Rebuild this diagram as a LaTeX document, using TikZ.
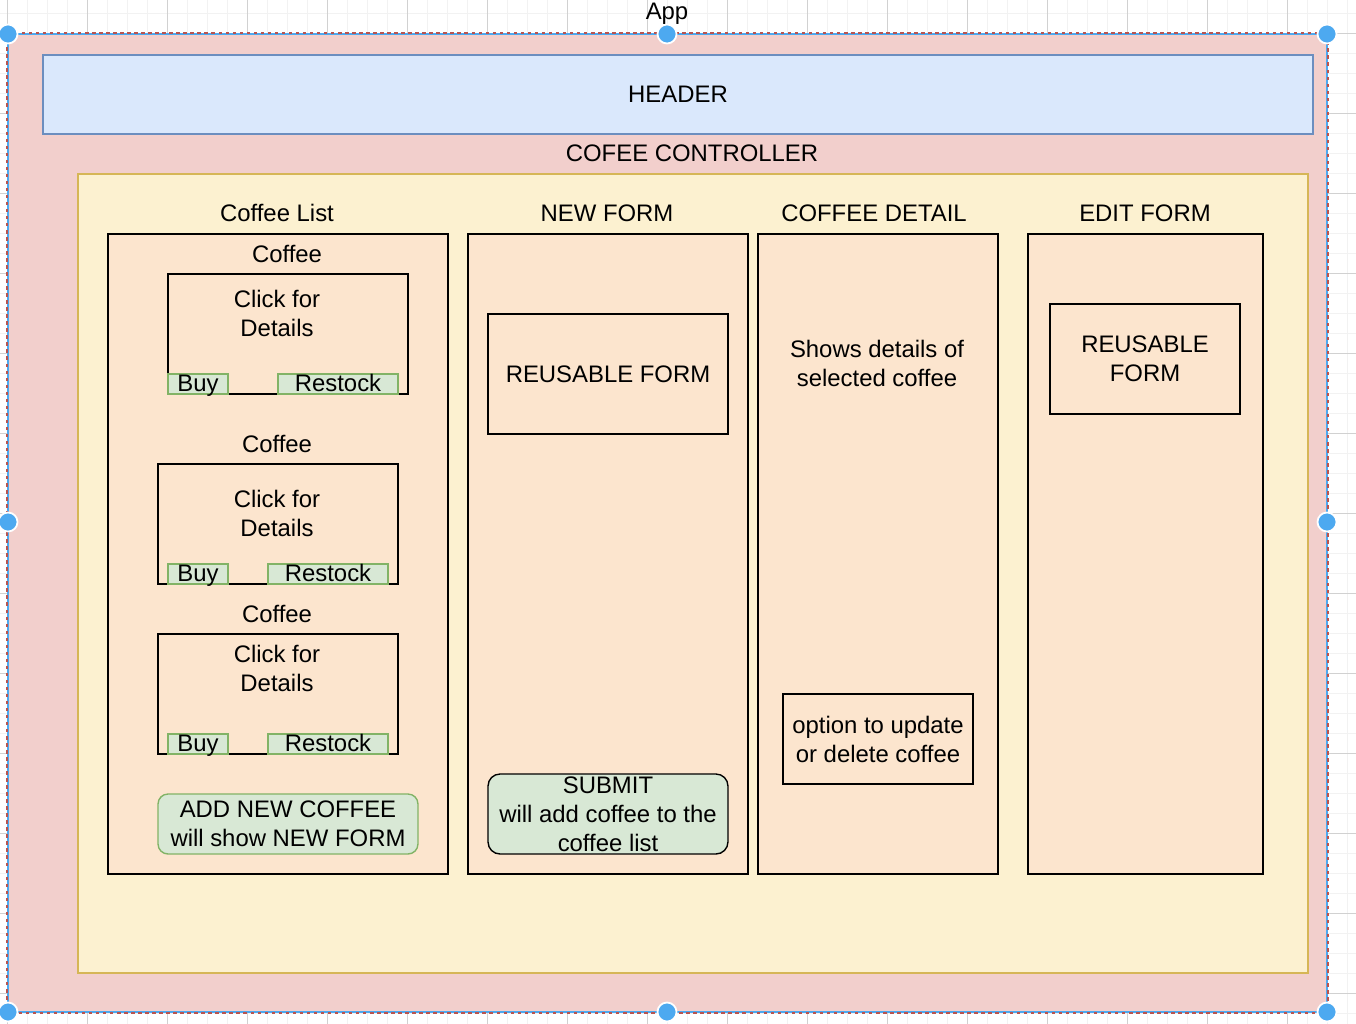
\documentclass[tikz,border=0pt]{standalone}
\usepackage{fontspec}
\setmainfont{Liberation Sans}
\usetikzlibrary{positioning}
\definecolor{appfill}{HTML}{F2CFCC}
\definecolor{appline}{HTML}{B85450}
\definecolor{selblue}{HTML}{4DA9F0}
\definecolor{headfill}{HTML}{DAE8FC}
\definecolor{headline}{HTML}{6C8EBF}
\definecolor{ctrlfill}{HTML}{FCF1D0}
\definecolor{ctrlline}{HTML}{D6B656}
\definecolor{panelfill}{HTML}{FCE5CE}
\definecolor{btnfill}{HTML}{D8E8D5}
\definecolor{btnline}{HTML}{82B366}
\tikzset{box/.style={draw=black, line width=0.8pt, inner sep=0pt, align=center}}
\tikzset{panel/.style={box, fill=panelfill, minimum width=#1, minimum height=12.8cm}}
\tikzset{card/.style={box, minimum width=4.8cm, minimum height=2.4cm}}
\tikzset{btn/.style={inner sep=0pt, draw=btnline, line width=0.8pt, fill=btnfill, minimum height=0.4cm, minimum width=#1}}
\tikzset{smallbtn/.style={btn=#1, text height=0.9em, text depth=0em}}
\tikzset{handle/.style={circle, inner sep=0pt, minimum size=0.38cm, fill=selblue, draw=white, line width=1pt}}
\tikzset{gridminor/.style={draw=black!5, line width=0.4pt}}
\tikzset{gridmajor/.style={draw=black!18, line width=0.4pt}}

\begin{document}
\begin{tikzpicture}[x=0.02cm, y=-0.02cm, every node/.append style={font=\fontsize{13.6pt}{16.5pt}\selectfont}]
    \useasboundingbox (0,0) rectangle (1356,1024);
    \fill[white] (0,0) rectangle (1356,1024);
    \foreach \gx in {7,27,...,1347} \draw[gridminor] (\gx,0) -- (\gx,1024);
    \foreach \gy in {13,33,...,1013} \draw[gridminor] (0,\gy) -- (1356,\gy);
    \foreach \gx in {7,87,...,1327} \draw[gridmajor] (\gx,0) -- (\gx,1024);
    \foreach \gy in {33,113,...,993} \draw[gridmajor] (0,\gy) -- (1356,\gy);

    % containers
    \node[inner sep=0pt, fill=appfill, draw=selblue, line width=1pt, minimum width=26.38cm, minimum height=19.56cm] (app) at (667.5, 523) {};
    \draw[appline, line width=1pt, dash pattern=on 2pt off 2pt] (app.north west) rectangle (app.south east);
    \node (applbl) at (667, 14) {App};
    \node[inner sep=0pt, fill=headfill, draw=headline, line width=0.8pt, minimum width=25.4cm, minimum height=1.58cm] (header) at (678, 94.5) {HEADER};
    \node (ctrllbl) at (692, 153) {COFEE CONTROLLER};
    \node[inner sep=0pt, fill=ctrlfill, draw=ctrlline, line width=0.8pt, minimum width=24.6cm, minimum height=15.98cm] (ctrl) at (693, 573.5) {};

    % columns
    \node[panel=6.8cm] (list) at (278, 554) {};
    \node[panel=5.6cm] (newf) at (608, 554) {};
    \node[panel=4.8cm] (detail) at (878, 554) {};
    \node[panel=4.7cm] (edit) at (1145.5, 554) {};
    \node (listlbl) at (277, 213) {Coffee List};
    \node (newlbl) at (607, 213) {NEW FORM};
    \node (detaillbl) at (874, 213) {COFFEE DETAIL};
    \node (editlbl) at (1145, 213) {EDIT FORM};

    % coffee cards
    \node (c1lbl) at (287, 254) {Coffee};
    \node[card] (c1) at (288, 334) {};
    \node[align=center] (c1txt) at (277, 313) {Click for\\Details};
    \node[smallbtn=1.2cm] (buy1) at (198, 384) {Buy};
    \node[smallbtn=2.4cm] (rest1) at (338, 384) {Restock};

    \node (c2lbl) at (277, 444) {Coffee};
    \node[card] (c2) at (278, 524) {};
    \node[align=center] (c2txt) at (277, 513) {Click for\\Details};
    \node[smallbtn=1.2cm] (buy2) at (198, 574) {Buy};
    \node[smallbtn=2.4cm] (rest2) at (328, 574) {Restock};

    \node (c3lbl) at (277, 614) {Coffee};
    \node[card] (c3) at (278, 694) {};
    \node[align=center] (c3txt) at (277, 668) {Click for\\Details};
    \node[smallbtn=1.2cm] (buy3) at (198, 744) {Buy};
    \node[smallbtn=2.4cm] (rest3) at (328, 744) {Restock};

    \node[btn=5.2cm, minimum height=1.2cm, rounded corners=0.2cm, align=center] (addbtn) at (288, 824) {ADD NEW COFFEE\\will show NEW FORM};

    % forms and detail
    \node[card] (reuse1) at (608, 374) {REUSABLE FORM};
    \node[box, fill=btnfill, minimum width=4.8cm, minimum height=1.6cm, rounded corners=0.24cm] (submit) at (608, 814) {SUBMIT\\will add coffee to the\\coffee list};
    \node[align=center] (detailtxt) at (877, 363) {Shows details of\\selected coffee};
    \node[box, minimum width=3.8cm, minimum height=1.8cm] (option) at (878, 739) {option to update\\or delete coffee};
    \node[box, minimum width=3.8cm, minimum height=2.2cm] (reuse2) at (1145, 359) {REUSABLE\\FORM};

    % selection handles
    \foreach \hx/\hy in {8/34, 667/34, 1327/34, 8/522, 1327/522, 8/1012, 667/1012, 1327/1012}
        \node[handle] at (\hx, \hy) {};
\end{tikzpicture}
\end{document}
